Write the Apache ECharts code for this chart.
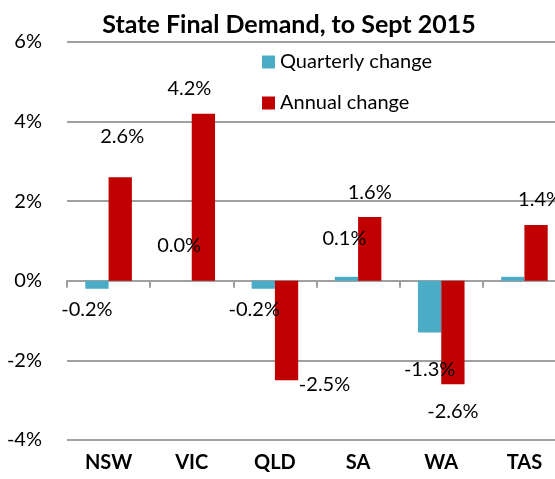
<!DOCTYPE html>
<html>
<head>
<meta charset="utf-8">
<script src="https://cdn.jsdelivr.net/npm/echarts@6/dist/echarts.min.js"></script>
<style>
  html, body { margin: 0; padding: 0; background: #fff; }
  #chart { width: 555px; height: 479px; }
</style>
</head>
<body>
<div id="chart"></div>
<script>
// 州最终需求数据
const states = ['NSW', 'VIC', 'QLD', 'SA', 'WA', 'TAS'];
const quarterly = [-0.2, 0.0, -0.2, 0.1, -1.3, 0.1];
const annual = [2.6, 4.2, -2.5, 1.6, -2.6, 1.4];
const yTicks = [-4, -2, 0, 2, 4, 6];

// label nudges, hand placed like the original
// (VIC's 0.0 bar gets its label below by default, so it needs a big lift)
const qOffsets = [[-10, 6], [-1, -50], [-9, 6], [-2, -23], [0, 22], null];
const aOffsets = [[2, -26], [-14, -10], [38, -11], [0, -10], [0, 12], [4, -11]];

const font = 'Lato, "Open Sans", sans-serif';

function withLabels(values, offsets) {
    return values.map(function(v, i) {
        const off = offsets[i];
        if (!off) {
            return { value: v, label: { show: false } };
        }
        return { value: v, label: { offset: off } };
    });
}

const chart = echarts.init(document.getElementById('chart'));
chart.setOption({
    animation: false,
    title: {
        text: 'State Final Demand, to Sept 2015',
        left: 284,
        textAlign: 'center',
        top: 7,
        textStyle: {
            fontFamily: font,
            fontWeight: 'bold',
            fontSize: 25,
            color: '#000'
        }
    },
    color: ['#4BACC6', '#C00000'],
    legend: {
        orient: 'vertical',
        left: 262,
        top: 51,
        padding: 0,
        icon: 'rect',
        itemWidth: 13,
        itemHeight: 13,
        itemGap: 19,
        textStyle: {
            fontFamily: font,
            fontSize: 20,
            lineHeight: 22,
            color: '#000'
        },
        data: ['Quarterly change', 'Annual change']
    },
    grid: {
        left: 67,
        top: 42,
        width: 499,
        height: 398,
        outerBoundsMode: 'none',
        containLabel: false
    },
    xAxis: [{
            type: 'category',
            data: states,
            axisLine: {
                onZero: true,
                lineStyle: { color: '#A0A0A0', width: 2 }
            },
            axisTick: {
                show: true,
                length: 7,
                lineStyle: { color: '#A0A0A0', width: 2 }
            },
            axisLabel: { show: false }
        },
        {
            type: 'category',
            data: states,
            position: 'bottom',
            axisLine: { show: false, onZero: false },
            axisTick: { show: false },
            axisLabel: {
                margin: 13,
                fontFamily: font,
                fontWeight: 'bold',
                fontSize: 20,
                color: '#000'
            }
        }
    ],
    yAxis: {
        type: 'value',
        min: yTicks[0],
        max: yTicks[yTicks.length - 1],
        interval: 2,
        axisLine: { show: false },
        axisTick: { show: false },
        splitLine: {
            lineStyle: { color: '#A0A0A0', width: 2 }
        },
        axisLabel: {
            margin: 25,
            fontFamily: font,
            fontSize: 20,
            color: '#000',
            formatter: '{value}%'
        }
    },
    series: [{
            name: 'Quarterly change',
            type: 'bar',
            xAxisIndex: 0,
            barWidth: '28%',
            barGap: '0%',
            data: withLabels(quarterly, qOffsets),
            label: {
                show: true,
                position: 'outside',
                fontFamily: font,
                fontSize: 20,
                color: '#000',
                formatter: function(p) { return p.value.toFixed(1) + '%'; }
            }
        },
        {
            name: 'Annual change',
            type: 'bar',
            xAxisIndex: 0,
            barWidth: '28%',
            barGap: '0%',
            data: withLabels(annual, aOffsets),
            label: {
                show: true,
                position: 'outside',
                fontFamily: font,
                fontSize: 20,
                color: '#000',
                formatter: function(p) { return p.value.toFixed(1) + '%'; }
            }
        }
    ]
});
</script>
</body>
</html>
